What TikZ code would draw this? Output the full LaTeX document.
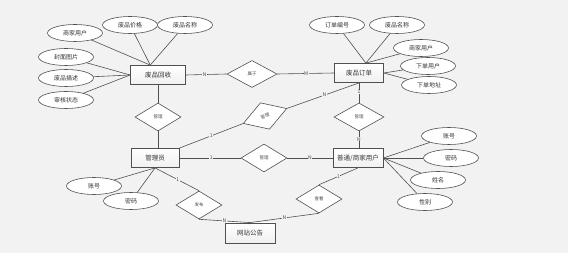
\documentclass[tikz,border=0pt]{standalone}
\usepackage{fontspec}
\setmainfont{Noto Sans CJK SC}
\usetikzlibrary{shapes.geometric}
\definecolor{bg}{HTML}{F2F2F2}
\definecolor{ln}{HTML}{505050}
\begin{document}
\begin{tikzpicture}[x=1pt,y=-1pt,
  entity/.style={draw=ln, line width=0.8pt, top color=white, bottom color=gray!12, minimum width=#1, minimum height=19pt, inner sep=0pt, font=\fontsize{6.5}{7}\selectfont, text=black!80},
  entity/.default=50pt,
  attr/.style={ellipse, draw=ln, line width=0.6pt, fill=white, minimum width=55pt, minimum height=17pt, inner sep=0pt, font=\fontsize{6}{7}\selectfont, text=black!80},
  rel/.style={diamond, draw=ln, line width=0.6pt, fill=white, minimum width=46pt, minimum height=28pt, inner sep=0pt, font=\fontsize{4.5}{5}\selectfont, text=black!70},
  conn/.style={draw=ln, line width=0.6pt},
  card/.style={fill=bg, inner sep=0.4pt, font=\fontsize{5}{5}\selectfont, text=black!70}
]
\fill[bg] (0,0) rectangle (568,253);
\useasboundingbox (0,0) rectangle (568,253);

% entities
\node[entity=55pt] (hs) at (158,75) {废品回收};
\node[entity=49pt] (ho) at (359,73) {废品订单};
\node[entity=48pt] (gl) at (155,158) {管理员};
\node[entity=50pt] (pu) at (358,158) {普通/商家用户};
\node[entity=50pt, minimum height=20pt] (ww) at (250,233) {网站公告};

% relationships
\node[rel, minimum width=50pt, minimum height=27pt] (d1) at (252,74) {属于};
\node[rel] (d2) at (158,117) {管理};
\node[rel, rotate=19] (d3) at (265,116) {管理};
\node[rel] (d4) at (264,158) {管理};
\node[rel, minimum width=50pt] (d5) at (359,117) {管理};
\node[rel] (d6) at (199,205) {发布};
\node[rel] (d7) at (319,199) {查看};

% attributes of 废品回收
\node[attr] (a1) at (75,33) {商家用户};
\node[attr] (a2) at (130,25) {废品价格};
\node[attr] (a3) at (185,25) {废品名称};
\node[attr] (a4) at (66,57) {封面图片};
\node[attr] (a5) at (66,78) {废品描述};
\node[attr] (a6) at (66,100) {审核状态};
% attributes of 废品订单
\node[attr] (b1) at (337,25) {订单编号};
\node[attr] (b2) at (397,25) {废品名称};
\node[attr] (b3) at (421,48) {商家用户};
\node[attr] (b4) at (428,66) {下单用户};
\node[attr] (b5) at (429,85) {下单地址};
% attributes of 普通/商家用户
\node[attr] (c1) at (449,136) {账号};
\node[attr] (c2) at (451,158) {密码};
\node[attr] (c3) at (438,180) {姓名};
\node[attr] (c4) at (425,202) {性别};
% attributes of 管理员
\node[attr] (e1) at (94,186) {账号};
\node[attr] (e2) at (131,201) {密码};

\begin{scope}[on background layer/.style={}]
\end{scope}

% attribute lines (drawn first would be hidden by fill; draw then re-fill not needed since they end at borders)
\foreach \a in {a1,a2,a3} \draw[conn] (\a) -- (hs.128);
\foreach \a in {a4,a5,a6} \draw[conn] (\a) -- (hs.west);
\foreach \a in {b1,b2,b3} \draw[conn] (\a) -- (ho.55);
\foreach \a in {b4,b5} \draw[conn] (\a) -- (ho.east);
\foreach \a in {c1,c2,c3,c4} \draw[conn] (\a) -- (pu.east);
\foreach \a in {e1,e2} \draw[conn] (\a) -- (gl.south);

% relationship lines
\draw[conn] (hs.east) -- node[card,pos=0.46]{N} (d1.west);
\draw[conn] (d1.east) -- node[card,pos=0.51]{M} (ho.west);
\draw[conn] (hs.south) -- (d2.north);
\draw[conn] (d2.south) -- (d2.south |- gl.north);
\draw[conn] (gl.north east) -- node[card,pos=0.5]{1} (d3.west);
\draw[conn] (d3.east) -- node[card,pos=0.52]{N} (ho.south);
\draw[conn] (gl.east) -- node[card,pos=0.52]{1} (d4.west);
\draw[conn] (d4.east) -- node[card,pos=0.5]{N} (pu.west);
\draw[conn] (ho.south) -- node[card,pos=0.45]{1} (d5.north);
\draw[conn] (d5.south) -- node[card,pos=0.47]{N} (d5.south |- pu.north);
\draw[conn] (gl.south) -- node[card,pos=0.52]{1} (d6.north);
\draw[conn] (d6.south) -- node[card,pos=0.5]{N} (ww.north);
\draw[conn] (d7.south) -- node[card,pos=0.5]{N} (ww.north);
\draw[conn] (pu.south) -- node[card,pos=0.5]{1} (d7.north);
\end{tikzpicture}
\end{document}
